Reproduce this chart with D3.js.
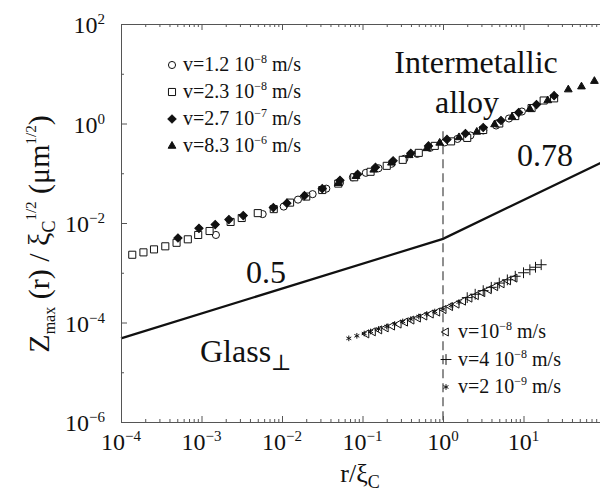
<!DOCTYPE html>
<html>
<head>
<meta charset="utf-8">
<script src="https://cdn.jsdelivr.net/npm/d3@7"></script>
<style>
  body { margin: 0; background: #fff; }
  text { font-family: "Liberation Serif", "DejaVu Serif", serif; fill: #111; white-space: pre; }
</style>
</head>
<body>
<div id="chart"></div>
<script>
// tick labels (exponents of 10)
var xTickValues = [1e-4, 1e-3, 1e-2, 1e-1, 1e0, 1e1];
var xTickExps = ["\u22124", "\u22123", "\u22122", "\u22121", "0", "1"];
var yTickValues = [1e-6, 1e-4, 1e-2, 1e0, 1e2];
var yTickExps = ["\u22126", "\u22124", "\u22122", "0", "2"];

// intermetallic alloy, [r/xi, Z]
var v12e8 = [[1.51e-3, 5.75e-3], [5.75e-3, 1.51e-2], [1.05e-2, 2.14e-2], [1.58e-2, 2.95e-2], [2.4e-2, 3.8e-2],
  [3.55e-2, 4.9e-2], [5.25e-2, 6.46e-2], [7.6e-2, 8.3e-2], [0.11, 0.102], [0.158, 0.126], [0.229, 0.155],
  [0.331, 0.195], [0.479, 0.245], [0.692, 0.324], [1.05, 0.417], [1.51, 0.49], [2.19, 0.575], [3.16, 0.724],
  [4.57, 0.912], [6.6, 1.26], [9.55, 1.74]];
var v23e8 = [[1.38e-4, 2.3e-3], [1.9e-4, 2.57e-3], [2.57e-4, 2.95e-3], [3.55e-4, 3.4e-3], [4.9e-4, 4.0e-3],
  [6.76e-4, 4.7e-3], [9.1e-4, 5.75e-3], [1.26e-3, 6.9e-3], [2.3e-3, 1.05e-2], [3.16e-3, 1.26e-2], [5.0e-3, 1.58e-2],
  [7.9e-3, 1.9e-2], [1.26e-2, 2.57e-2], [2.0e-2, 3.4e-2], [3.16e-2, 4.6e-2], [5.0e-2, 6.2e-2], [7.9e-2, 8.3e-2],
  [0.126, 0.107], [0.2, 0.141], [0.316, 0.186], [0.5, 0.257], [0.79, 0.355], [1.26, 0.437], [2.0, 0.513],
  [3.16, 0.74], [5.0, 1.0], [7.9, 1.41], [12.6, 2.04], [17.8, 2.9], [24, 3.2]];
var v27e7 = [[5.1e-4, 5.0e-3], [9.3e-4, 7.8e-3], [1.48e-3, 9.3e-3], [2.19e-3, 1.17e-2], [3.3e-3, 1.41e-2],
  [7.8e-3, 2.04e-2], [1.15e-2, 2.5e-2], [1.9e-2, 3.55e-2], [3.16e-2, 4.9e-2], [5.25e-2, 7.2e-2], [8.7e-2, 9.5e-2],
  [0.145, 0.132], [0.24, 0.178], [0.398, 0.251], [0.66, 0.355], [1.12, 0.479], [1.9, 0.63], [3.16, 0.83],
  [5.25, 1.15], [8.7, 1.66], [14.5, 2.4], [24, 3.63]];
var v83e6 = [[5.0e-2, 6.3e-2], [8.3e-2, 8.7e-2], [0.138, 0.117], [0.229, 0.162], [0.38, 0.229], [0.63, 0.316],
  [0.91, 0.407], [1.58, 0.525], [2.63, 0.676], [4.37, 0.955], [7.2, 1.35], [12, 1.95], [20, 2.9],
  [36, 4.8], [52.5, 5.5], [76, 7.1]];

// glass
var g1e8 = [[0.112, 5.9e-5], [0.135, 6.5e-5], [0.162, 7.1e-5], [0.195, 7.8e-5], [0.234, 8.5e-5], [0.282, 9.3e-5],
  [0.339, 1.02e-4], [0.407, 1.12e-4], [0.49, 1.23e-4], [0.589, 1.35e-4], [0.708, 1.48e-4], [0.851, 1.62e-4],
  [1.02, 1.82e-4], [1.23, 2.09e-4], [1.48, 2.34e-4], [1.78, 2.69e-4], [2.14, 3.09e-4], [2.57, 3.47e-4],
  [3.09, 3.98e-4], [3.72, 4.57e-4], [4.47, 5.25e-4], [5.37, 6.0e-4], [6.46, 6.9e-4], [7.76, 7.8e-4]];
var g4e8 = [[2.0, 3.16e-4], [2.51, 3.7e-4], [3.16, 4.37e-4], [3.98, 5.1e-4], [5.0, 6.2e-4], [6.3, 7.2e-4],
  [7.9, 8.5e-4], [10, 1.0e-3], [12, 1.15e-3], [14.1, 1.29e-3], [16.6, 1.45e-3]];
var g2e9 = [[0.0676, 4.8e-5], [0.0851, 5.4e-5], [0.105, 6.0e-5], [0.126, 6.6e-5], [0.158, 7.4e-5], [0.2, 8.3e-5],
  [0.251, 9.3e-5], [0.316, 1.05e-4], [0.398, 1.17e-4], [0.5, 1.32e-4], [0.63, 1.48e-4], [0.79, 1.66e-4],
  [1.0, 1.86e-4], [1.26, 2.19e-4], [1.58, 2.57e-4]];

// power law guide (slopes 0.5 and 0.78) and the r = xi_c marker
var guideLine = [[1e-4, 4.8e-5], [1, 4.8e-3], [100, 0.174]];
var crossover = [[1, 0.7], [1, 1e-6]];

var width = 600, height = 491;
var margins = { top: 24, right: -4, bottom: 69, left: 121 };

var svg = d3.select("#chart").append("svg")
  .attr("width", width)
  .attr("height", height)
  .attr("xmlns", "http://www.w3.org/2000/svg");

svg.append("rect").attr("width", width).attr("height", height).attr("fill", "#fff");

var x = d3.scaleLog().domain([1e-4, 1e2]).range([margins.left, width - margins.right]);
var y = d3.scaleLog().domain([1e-6, 1e2]).range([height - margins.bottom, margins.top]);

// text with sub/superscripts: parts = [text, shift, size]
function richText(parent, px, py, parts, size, anchor) {
  var t = parent.append("text")
    .attr("x", px).attr("y", py)
    .attr("font-size", size)
    .attr("text-anchor", anchor || "start");
  var shift = 0;
  parts.forEach(function (p) {
    var s = p[1] || 0;
    t.append("tspan").attr("dy", s - shift).attr("font-size", p[2] || size).text(p[0]);
    shift = s;
  });
  return t;
}

function renderAxes() {
  var minorX = [];
  for (var e = -4; e < 2; e++) {
    for (var k = 2; k < 10; k++) minorX.push(k * Math.pow(10, e));
  }
  var majorX = xTickValues.concat([1e2]);

  var axes = [
    [d3.axisBottom(x).tickValues(majorX).tickSize(-6), "translate(0," + y(1e-6) + ")"],
    [d3.axisBottom(x).tickValues(minorX).tickSize(-3), "translate(0," + y(1e-6) + ")"],
    [d3.axisTop(x).tickValues(majorX).tickSize(-6), "translate(0," + y(1e2) + ")"],
    [d3.axisTop(x).tickValues(minorX).tickSize(-3), "translate(0," + y(1e2) + ")"],
    [d3.axisLeft(y).tickValues(yTickValues).tickSize(-6), "translate(" + x(1e-4) + ",0)"],
    [d3.axisLeft(y).tickValues([1e-5, 1e-3, 1e-1, 1e1]).tickSize(-3), "translate(" + x(1e-4) + ",0)"]
  ];
  axes.forEach(function (a) {
    var g = svg.append("g")
      .attr("transform", a[1])
      .call(a[0].tickSizeOuter(0).tickFormat(""));
    g.select(".domain").attr("stroke", "#555");
    g.selectAll(".tick line").attr("stroke", "#555");
  });

  var labels = svg.append("g");
  xTickValues.forEach(function (v, i) {
    richText(labels, x(v), y(1e-6) + 28, [["10"], [xTickExps[i], -9, 15]], 24, "middle");
  });
  yTickValues.forEach(function (v, i) {
    richText(labels, 105, y(v) + 9, [["10"], [yTickExps[i], -9, 15]], 24, "end");
  });

  richText(svg, 360, 482, [["r/\u03be"], ["C", 6, 18]], 26, "middle");

  var yl = svg.append("g").attr("transform", "translate(49,234) rotate(-90)");
  richText(yl, 0, 0, [["Z"], ["max", 6, 16], [" (r) / \u03be"], ["C", 6, 18], ["1/2", -13, 15],
    [" (\u03bcm"], ["1/2", -13, 15], [")"]], 30, "middle");
}

function renderLines() {
  var line = d3.line()
    .x(function (d) { return x(d[0]); })
    .y(function (d) { return y(d[1]); });

  svg.append("path")
    .attr("d", line(guideLine))
    .attr("fill", "none")
    .attr("stroke", "#111")
    .attr("stroke-width", 2.2);

  svg.append("path")
    .attr("d", line(crossover))
    .attr("fill", "none")
    .attr("stroke", "#333")
    .attr("stroke-width", 1.1)
    .attr("stroke-dasharray", "9,5");
}

var styles = [
  { data: v12e8, type: d3.symbolCircle, size: 40, fill: "#fff", stroke: "#111" },
  { data: v23e8, type: d3.symbolSquare, size: 50, fill: "#fff", stroke: "#111" },
  { data: v27e7, type: d3.symbolSquare, size: 34, fill: "#111", stroke: "#111", rot: 45 },
  { data: v83e6, type: d3.symbolTriangle, size: 26, fill: "#111", stroke: "#111" },
  { data: g1e8, type: d3.symbolTriangle, size: 28, fill: "#fff", stroke: "#111", rot: -90 },
  { data: g4e8, type: d3.symbolPlus || d3.symbolCross, size: 40, fill: "none", stroke: "#111" },
  { data: g2e9, type: d3.symbolAsterisk || d3.symbolStar, size: 22, fill: "#111", stroke: "#111" }
];

function renderPoints() {
  styles.forEach(function (s) {
    svg.append("g").selectAll("path")
      .data(s.data)
      .enter().append("path")
      .attr("transform", function (d) {
        return "translate(" + x(d[0]) + "," + y(d[1]) + ")" + (s.rot ? " rotate(" + s.rot + ")" : "");
      })
      .attr("d", d3.symbol().type(s.type).size(s.size))
      .attr("fill", s.fill)
      .attr("stroke", s.stroke)
      .attr("stroke-width", 1);
  });
}

function marker(s, px, py) {
  svg.append("path")
    .attr("transform", "translate(" + px + "," + py + ")" + (s.rot ? " rotate(" + s.rot + ")" : ""))
    .attr("d", d3.symbol().type(s.type).size(s.size))
    .attr("fill", s.fill)
    .attr("stroke", s.stroke);
}

function renderLegends() {
  var top = [["v=1.2 10", "\u22128"], ["v=2.3 10", "\u22128"], ["v=2.7 10", "\u22127"], ["v=8.3 10", "\u22126"]];
  top.forEach(function (t, i) {
    var cy = 65 + i * 27;
    marker(styles[i], 172, cy);
    richText(svg, 183, cy + 6, [[t[0]], [t[1], -8, 12], [" m/s"]], 20);
  });

  var low = [["v=10", "\u22128"], ["v=4 10", "\u22128"], ["v=2 10", "\u22129"]];
  low.forEach(function (t, i) {
    var cy = 332 + i * 27.5;
    marker(styles[4 + i], 446, cy);
    richText(svg, 458, cy + 6, [[t[0]], [t[1], -8, 12], [" m/s"]], 20);
  });

  richText(svg, 476, 73, [["Intermetallic"]], 32, "middle");
  richText(svg, 467, 113, [["alloy"]], 32, "middle");
  richText(svg, 545, 166, [["0.78"]], 32, "middle");
  richText(svg, 266, 283, [["0.5"]], 32, "middle");
  richText(svg, 200, 362, [["Glass"], ["\u22a5", 8, 22]], 32);
}

renderLines();
renderPoints();
renderAxes();
renderLegends();
</script>
</body>
</html>
